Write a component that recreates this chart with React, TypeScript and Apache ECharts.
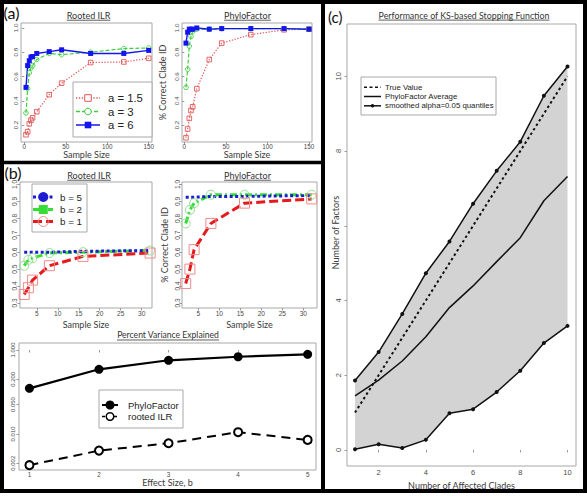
import React, { useEffect, useRef } from 'react';
import * as echarts from 'echarts';

// ---------- (a) % correct clade ID vs sample size ----------
const aSampleSizes = [2, 4, 6, 8, 10, 15, 30, 45, 80, 120, 150];
const aIlrA15 = [0.12, 0.145, 0.21, 0.24, 0.26, 0.31, 0.45, 0.545, 0.715, 0.72, 0.75];
const aIlrA3 = [0.3, 0.5, 0.63, 0.67, 0.69, 0.74, 0.79, 0.78, 0.8, 0.83, 0.835];
const aIlrA6 = [0.51, 0.69, 0.73, 0.76, 0.765, 0.79, 0.805, 0.82, 0.79, 0.79, 0.815];
const aPfA15 = [0.095, 0.167, 0.255, 0.32, 0.35, 0.5, 0.74, 0.875, 0.945, 0.985, 0.99];
const aPfA3 = [0.51, 0.66, 0.85, 0.93, 0.97, 0.99, 0.99, 0.995, 0.995, 0.995, 0.99];
const aPfA6 = [0.875, 0.965, 0.99, 0.99, 0.99, 1.0, 0.99, 0.995, 0.995, 0.995, 0.99];
const aXTicks = [0, 50, 100, 150];
const aYTicks = [0.2, 0.4, 0.6, 0.8, 1.0];
const aLegendLabels = ['a = 1.5', 'a = 3', 'a = 6'];

// ---------- (b) top: % correct clade ID vs sample size ----------
const bSampleSizes = [2, 3, 4, 8, 16, 32];
const bIlrB5 = [0.6, 0.6, 0.6, 0.6, 0.605, 0.61];
const bIlrB2 = [0.52, 0.555, 0.565, 0.595, 0.6, 0.61];
const bIlrB1 = [0.35, 0.39, 0.435, 0.52, 0.575, 0.595];
const bPfB5 = [0.925, 0.925, 0.925, 0.93, 0.93, 0.935];
const bPfB2 = [0.77, 0.85, 0.89, 0.94, 0.94, 0.94];
const bPfB1 = [0.415, 0.5, 0.615, 0.77, 0.89, 0.915];
const bXTicks = [5, 10, 15, 20, 25, 30];
const bYTicks = [0.3, 0.4, 0.5, 0.6, 0.7, 0.8, 0.9, 1.0];
const bLegendLabels = ['b = 5', 'b = 2', 'b = 1'];

// ---------- (b) bottom: percent variance explained (log scale) ----------
const effectSizes = [1, 2, 3, 4, 5];
const pvePhyloFactor = [0.122, 0.347, 0.569, 0.69, 0.79];
const pveRootedIlr = [0.0018, 0.004, 0.006, 0.011, 0.0072];
const pveYTickValues = [0.002, 0.01, 0.05, 0.2, 1];
const pveLegendLabels = ['PhyloFactor', 'rooted ILR'];

// ---------- (c) KS-based stopping function ----------
const cladeCounts = [1, 2, 3, 4, 5, 6, 7, 8, 9, 10];
const trueValue = [1, 2, 3, 4, 5, 6, 7, 8, 9, 10];
const pfAverage = [1.45, 1.87, 2.38, 3.03, 3.81, 4.39, 5.04, 5.68, 6.67, 7.32];
const upperQuantile = [1.86, 2.62, 3.64, 4.73, 5.58, 6.59, 7.47, 8.25, 9.48, 10.26];
const lowerQuantile = [0.02, 0.15, 0.05, 0.27, 0.98, 1.09, 1.55, 2.12, 2.86, 3.32];
const cXTicks = [2, 4, 6, 8, 10];
const cYTicks = [0, 2, 4, 6, 8, 10];
const cYLabels = [0, 2, 4, 8, 10];
const cLegendLabels = ['True Value', 'PhyloFactor Average', 'smoothed alpha=0.05 quantiles'];

// ---------- styles ----------
const BOX = '#a8a8a8';
const TICK = '#9a9a9a';
const LABEL = '#4a4a4a';
const NAME = '#3a3a3a';
const TICKFONT = 'Liberation Sans, Arial, sans-serif';
const CAL = 'Lato, sans-serif';

const RED_A = '#e05858';
const GREEN_A = '#3ccf3c';
const BLUE_A = '#1414f0';
const RED_B = '#e41a1c';
const RED_B_SQ = '#ee8c8c';
const GREEN_B = '#36dd36';
const GREEN_B_C = '#8fe08f';
const BLUE_B = '#1c1cd0';

const pairs = (xs: number[], ys: number[]) => xs.map((x, i) => [x, ys[i]]);
const log10 = (v: number) => Math.log10(v);

function measure(text: string, font: string) {
  const ctx = document.createElement('canvas').getContext('2d');
  if (!ctx) return text.length * 4.5;
  ctx.font = font;
  return ctx.measureText(text).width;
}

function axis(o: any) {
  return {
    type: 'value',
    gridIndex: o.grid,
    min: o.min,
    max: o.max,
    axisLine: { show: false },
    splitLine: { show: false },
    axisTick: {
      show: true,
      inside: false,
      length: o.tickLen ?? 2.5,
      customValues: o.ticks,
      lineStyle: { color: TICK, width: 1 },
    },
    axisLabel: {
      show: true,
      customValues: o.labels ?? o.ticks,
      margin: o.margin,
      rotate: o.rotate ?? 0,
      fontSize: o.fontSize,
      color: LABEL,
      fontFamily: TICKFONT,
      formatter: o.fmt,
    },
    name: o.name ?? '',
    nameLocation: 'middle',
    nameGap: o.nameGap ?? 10,
    nameRotate: o.nameRotate,
    nameTextStyle: {
      fontSize: o.nameSize ?? 9,
      fontFamily: CAL,
      color: NAME,
    },
  };
}

function line(grid: number, name: string, data: any[], o: any) {
  return {
    type: 'line',
    name,
    xAxisIndex: grid,
    yAxisIndex: grid,
    data,
    symbol: o.symbol ?? 'none',
    symbolSize: o.size ?? 4,
    showSymbol: o.symbol ? true : false,
    silent: true,
    z: o.z ?? 2,
    lineStyle: { color: o.color, width: o.width ?? 1.2, type: o.dash ?? 'solid', cap: 'butt' },
    itemStyle: { color: o.fill ?? o.color, borderColor: o.stroke ?? o.color, borderWidth: o.bw ?? 0 },
  };
}

function txt(text: string, x: number, y: number, font: string, fill = '#222', align = 'left', rotation = 0) {
  return {
    type: 'text',
    x,
    y,
    rotation,
    z: 120,
    style: {
      text,
      font,
      fill,
      align,
      verticalAlign: 'middle',
      textAlign: align,
      textVerticalAlign: 'middle',
    },
  };
}

function title(text: string, cx: number, cy: number, size: number) {
  const font = `${size}px ${CAL}`;
  const w = measure(text, font);
  return [
    txt(text, cx, cy, font, '#333', 'center'),
    {
      type: 'line',
      z: 120,
      shape: { x1: cx - w / 2, y1: cy + size * 0.58, x2: cx + w / 2, y2: cy + size * 0.58 },
      style: { stroke: '#333', lineWidth: 0.8 },
    },
  ];
}

function seg(x1: number, x2: number, y: number, stroke: string, width: number, dash: any) {
  return {
    type: 'line',
    z: 120,
    shape: { x1, y1: y, x2, y2: y },
    style: { stroke, lineWidth: width, lineDash: dash, lineCap: 'butt' },
  };
}

function box(x: number, y: number, w: number, h: number) {
  return {
    type: 'rect',
    z: 110,
    shape: { x, y, width: w, height: h },
    style: { fill: '#fff', stroke: BOX, lineWidth: 1 },
  };
}

export default function App() {
  const ref = useRef<HTMLDivElement>(null);

  useEffect(() => {
    if (!ref.current) return;
    const chart = echarts.init(ref.current, null, { renderer: 'svg' });

    const grids = [
      { left: 21, top: 23, width: 131, height: 119 },
      { left: 182, top: 23, width: 130, height: 119 },
      { left: 20, top: 182, width: 132, height: 126 },
      { left: 182, top: 182, width: 135, height: 126 },
      { left: 19, top: 343, width: 297, height: 127 },
      { left: 347, top: 24, width: 229, height: 442 },
    ].map((g) => ({
      ...g,
      show: true,
      borderColor: BOX,
      borderWidth: 1,
      backgroundColor: 'transparent',
      containLabel: false,
      outerBoundsMode: 'none',
    }));

    const f1 = (v: number) => v.toFixed(1);
    const fInt = (v: number) => String(Math.round(v));
    const fPow = (v: number) => Math.pow(10, v).toFixed(3);

    const xAxes = [
      axis({ grid: 0, min: -4, max: 154, ticks: aXTicks, margin: 1.5, fontSize: 6.3, fmt: fInt, name: 'Sample Size', nameGap: 7.5 }),
      axis({ grid: 1, min: -2.8, max: 153.6, ticks: aXTicks, margin: 1.5, fontSize: 6.3, fmt: fInt, name: 'Sample Size', nameGap: 7.5 }),
      axis({ grid: 2, min: 1.0, max: 32.45, ticks: bXTicks, margin: 2, fontSize: 6.6, fmt: fInt, name: 'Sample Size', nameGap: 11.5 }),
      axis({ grid: 3, min: 1.12, max: 33.26, ticks: bXTicks, margin: 2, fontSize: 6.6, fmt: fInt, name: 'Sample Size', nameGap: 11.5 }),
      axis({ grid: 4, min: 0.85, max: 5.12, ticks: effectSizes, margin: 1.5, fontSize: 6.3, fmt: fInt, name: 'Effect Size, b', nameGap: 7 }),
      axis({ grid: 5, min: 0.66, max: 10.36, ticks: cXTicks, margin: 2.5, fontSize: 7.5, fmt: fInt, name: 'Number of Affected Clades', nameGap: 8.5 }),
    ];

    const yAxes = [
      axis({ grid: 0, min: 0.06, max: 1.041, ticks: aYTicks, margin: 2.2, rotate: 90, fontSize: 6.2, fmt: f1 }),
      axis({ grid: 1, min: 0.06, max: 1.041, ticks: aYTicks, margin: 3, rotate: 90, fontSize: 6.2, fmt: f1, name: '% Correct Clade ID', nameGap: 14.6, nameRotate: 90 }),
      axis({ grid: 2, min: 0.27, max: 1.015, ticks: bYTicks, margin: 1.7, rotate: 90, fontSize: 6.6, fmt: f1 }),
      axis({ grid: 3, min: 0.27, max: 1.015, ticks: bYTicks, margin: 1.5, rotate: 90, fontSize: 6.6, fmt: f1, name: '% Correct Clade ID', nameGap: 13.3, nameRotate: 90 }),
      axis({ grid: 4, min: -2.86, max: 0.167, ticks: pveYTickValues.map(log10), margin: 2.7, rotate: 90, fontSize: 6, fmt: fPow }),
      axis({ grid: 5, min: -0.43, max: 11.4, ticks: cYTicks, labels: cYLabels, margin: 4.2, rotate: 90, fontSize: 7.5, fmt: fInt }),
    ];

    const series: any[] = [
      // (a) Rooted ILR
      line(0, 'a = 1.5', pairs(aSampleSizes, aIlrA15), { color: RED_A, width: 1.2, dash: [1.3, 1.6], symbol: 'rect', size: 4.6, fill: 'rgba(255,255,255,0)', stroke: RED_A, bw: 0.9 }),
      line(0, 'a = 3', pairs(aSampleSizes, aIlrA3), { color: GREEN_A, width: 1.2, dash: [4, 2], symbol: 'circle', size: 4.6, fill: 'rgba(255,255,255,0)', stroke: GREEN_A, bw: 0.9 }),
      line(0, 'a = 6', pairs(aSampleSizes, aIlrA6), { color: BLUE_A, width: 1.4, symbol: 'rect', size: 5, fill: BLUE_A, stroke: BLUE_A, bw: 0 }),
      // (a) PhyloFactor
      line(1, 'a = 1.5', pairs(aSampleSizes, aPfA15), { color: RED_A, width: 1.2, dash: [1.3, 1.6], symbol: 'rect', size: 4.6, fill: 'rgba(255,255,255,0)', stroke: RED_A, bw: 0.9 }),
      line(1, 'a = 3', pairs(aSampleSizes, aPfA3), { color: GREEN_A, width: 1.2, dash: [4, 2], symbol: 'circle', size: 4.6, fill: 'rgba(255,255,255,0)', stroke: GREEN_A, bw: 0.9 }),
      line(1, 'a = 6', pairs(aSampleSizes, aPfA6), { color: BLUE_A, width: 1.4, symbol: 'rect', size: 5, fill: BLUE_A, stroke: BLUE_A, bw: 0 }),
      // (b) Rooted ILR
      line(2, 'b = 2', pairs(bSampleSizes, bIlrB2), { color: GREEN_B, width: 3, dash: [7, 3, 2, 3], symbol: 'circle', size: 9, fill: 'rgba(255,255,255,0)', stroke: GREEN_B_C, bw: 1 }),
      line(2, 'b = 5', pairs(bSampleSizes, bIlrB5), { color: BLUE_B, width: 3, dash: [3, 2.5] }),
      line(2, 'b = 1', pairs(bSampleSizes, bIlrB1), { color: RED_B, width: 3, dash: [9, 4], symbol: 'rect', size: 10, fill: 'rgba(255,255,255,0)', stroke: RED_B_SQ, bw: 1 }),
      // (b) PhyloFactor
      line(3, 'b = 2', pairs(bSampleSizes, bPfB2), { color: GREEN_B, width: 3, dash: [7, 3, 2, 3], symbol: 'circle', size: 9, fill: 'rgba(255,255,255,0)', stroke: GREEN_B_C, bw: 1 }),
      line(3, 'b = 5', pairs(bSampleSizes, bPfB5), { color: BLUE_B, width: 3, dash: [3, 2.5] }),
      line(3, 'b = 1', pairs(bSampleSizes, bPfB1), { color: RED_B, width: 3, dash: [9, 4], symbol: 'rect', size: 10, fill: 'rgba(255,255,255,0)', stroke: RED_B_SQ, bw: 1 }),
      // (b) Percent variance explained (log10 scale)
      line(4, 'PhyloFactor', pairs(effectSizes, pvePhyloFactor.map(log10)), { color: '#000', width: 2.2, symbol: 'circle', size: 9, fill: '#000', stroke: '#000', bw: 0 }),
      line(4, 'rooted ILR', pairs(effectSizes, pveRootedIlr.map(log10)), { color: '#000', width: 2, dash: [9, 6], symbol: 'circle', size: 8, fill: '#fff', stroke: '#000', bw: 2 }),
      // (c) quantile band
      {
        type: 'custom',
        name: 'quantile band',
        xAxisIndex: 5,
        yAxisIndex: 5,
        silent: true,
        z: 1,
        encode: { x: 0, y: [1, 2] },
        data: cladeCounts.map((c, i) => [c, lowerQuantile[i], upperQuantile[i]]),
        renderItem: (params: any, api: any) => {
          if (params.dataIndexInside !== 0) return null;
          const n = params.dataInsideLength;
          const pts: number[][] = [];
          for (let i = 0; i < n; i++) pts.push(api.coord([api.value(0, i), api.value(1, i)]));
          for (let i = n - 1; i >= 0; i--) pts.push(api.coord([api.value(0, i), api.value(2, i)]));
          return { type: 'polygon', shape: { points: pts }, style: { fill: '#d3d3d3', stroke: 'none' } };
        },
      },
      line(5, 'True Value', pairs(cladeCounts, trueValue), { color: '#111', width: 2, dash: [2.5, 2.8] }),
      line(5, 'PhyloFactor Average', pairs(cladeCounts, pfAverage), { color: '#111', width: 1.5 }),
      line(5, 'upper quantile', pairs(cladeCounts, upperQuantile), { color: '#111', width: 1.5, symbol: 'circle', size: 4, fill: '#111' }),
      line(5, 'lower quantile', pairs(cladeCounts, lowerQuantile), { color: '#111', width: 1.5, symbol: 'circle', size: 4, fill: '#111' }),
    ];

    const LEG = TICKFONT;
    const graphic: any[] = [
      // panel frames
      { type: 'rect', z: 130, shape: { x: 2, y: 2, width: 583, height: 489 }, style: { fill: 'none', stroke: '#000', lineWidth: 4 } },
      { type: 'line', z: 130, shape: { x1: 323, y1: 0, x2: 323, y2: 493 }, style: { stroke: '#000', lineWidth: 4 } },
      { type: 'line', z: 130, shape: { x1: 0, y1: 162.5, x2: 323, y2: 162.5 }, style: { stroke: '#000', lineWidth: 3.5 } },
      // panel letters
      txt('(a)', 3.5, 12.5, `16px ${CAL}`, '#111'),
      txt('(b)', 4.5, 172.5, `16px ${CAL}`, '#111'),
      txt('(c)', 328, 16.5, `15px ${CAL}`, '#111'),
      // titles
      ...title('Rooted ILR', 88.5, 15, 9),
      ...title('PhyloFactor', 247.5, 15, 9),
      ...title('Rooted ILR', 89, 175, 9),
      ...title('PhyloFactor', 247.5, 175, 9),
      ...title('Percent Variance Explained', 168, 335, 8.6),
      ...title('Performance of KS-based Stopping Function', 464, 15, 8.8),
      // (c) y-axis title
      txt('Number of Factors', 335.7, 232.5, `9px ${CAL}`, NAME, 'center', Math.PI / 2),

      // (a) legend
      box(73, 82, 79, 55),
      seg(76, 100, 98, RED_A, 1.3, [1.3, 1.6]),
      { type: 'rect', z: 121, shape: { x: 84.7, y: 94.7, width: 6.6, height: 6.6 }, style: { fill: '#fff', stroke: RED_A, lineWidth: 1 } },
      txt(aLegendLabels[0], 108, 98, `11.3px ${LEG}`),
      seg(76, 100, 111.5, GREEN_A, 1.3, [4, 2]),
      { type: 'circle', z: 121, shape: { cx: 88, cy: 111.5, r: 3.3 }, style: { fill: '#fff', stroke: GREEN_A, lineWidth: 1 } },
      txt(aLegendLabels[1], 108, 111.5, `11.3px ${LEG}`),
      seg(76, 100, 125, BLUE_A, 1.5, null),
      { type: 'rect', z: 121, shape: { x: 84.7, y: 121.7, width: 6.6, height: 6.6 }, style: { fill: BLUE_A } },
      txt(aLegendLabels[2], 108, 125, `11.3px ${LEG}`),

      // (b) legend
      box(32, 184, 55, 48),
      seg(33, 53, 197, BLUE_B, 3, [3, 2.5]),
      { type: 'circle', z: 121, shape: { cx: 43.3, cy: 197, r: 5 }, style: { fill: BLUE_B } },
      txt(bLegendLabels[0], 60, 197, `9.8px ${LEG}`),
      seg(33, 53, 209.5, GREEN_B, 3, [7, 3, 2, 3]),
      { type: 'rect', z: 121, shape: { x: 38.8, y: 205, width: 9, height: 9 }, style: { fill: GREEN_B } },
      txt(bLegendLabels[1], 60, 209.5, `9.8px ${LEG}`),
      seg(33, 53, 221.5, RED_B, 3, [9, 4]),
      { type: 'circle', z: 121, shape: { cx: 43.3, cy: 221.5, r: 5 }, style: { fill: 'none', stroke: RED_B_SQ, lineWidth: 1 } },
      txt(bLegendLabels[2], 60, 221.5, `9.8px ${LEG}`),

      // (b) bottom legend
      box(99, 390, 84, 38),
      seg(102, 118, 405, '#000', 2, null),
      { type: 'circle', z: 121, shape: { cx: 110, cy: 405, r: 4.5 }, style: { fill: '#000' } },
      txt(pveLegendLabels[0], 128, 405, `9.5px ${LEG}`),
      seg(102, 118, 416.5, '#000', 1.5, [3, 3]),
      { type: 'circle', z: 121, shape: { cx: 110, cy: 416.5, r: 3.8 }, style: { fill: '#fff', stroke: '#000', lineWidth: 1.5 } },
      txt(pveLegendLabels[1], 128, 416.5, `9.5px ${LEG}`),

      // (c) legend
      box(361, 77, 135, 38),
      seg(364, 381, 87.3, '#111', 1.5, [3, 2.5]),
      txt(cLegendLabels[0], 385, 87.3, `7.8px ${LEG}`),
      seg(364, 381, 96.5, '#111', 1.5, null),
      txt(cLegendLabels[1], 385, 96.5, `7.8px ${LEG}`),
      seg(364, 381, 105.8, '#111', 1.5, null),
      { type: 'circle', z: 121, shape: { cx: 372.5, cy: 105.8, r: 1.8 }, style: { fill: '#111' } },
      txt(cLegendLabels[2], 385, 105.8, `7.8px ${LEG}`),
    ];

    chart.setOption({
      animation: false,
      backgroundColor: '#ffffff',
      grid: grids,
      xAxis: xAxes,
      yAxis: yAxes,
      series,
      graphic,
    });

    return () => chart.dispose();
  }, []);

  return (
    <div
      ref={ref}
      style={{ position: 'fixed', left: 0, top: 0, width: 587, height: 501, background: '#fff' }}
    />
  );
}
